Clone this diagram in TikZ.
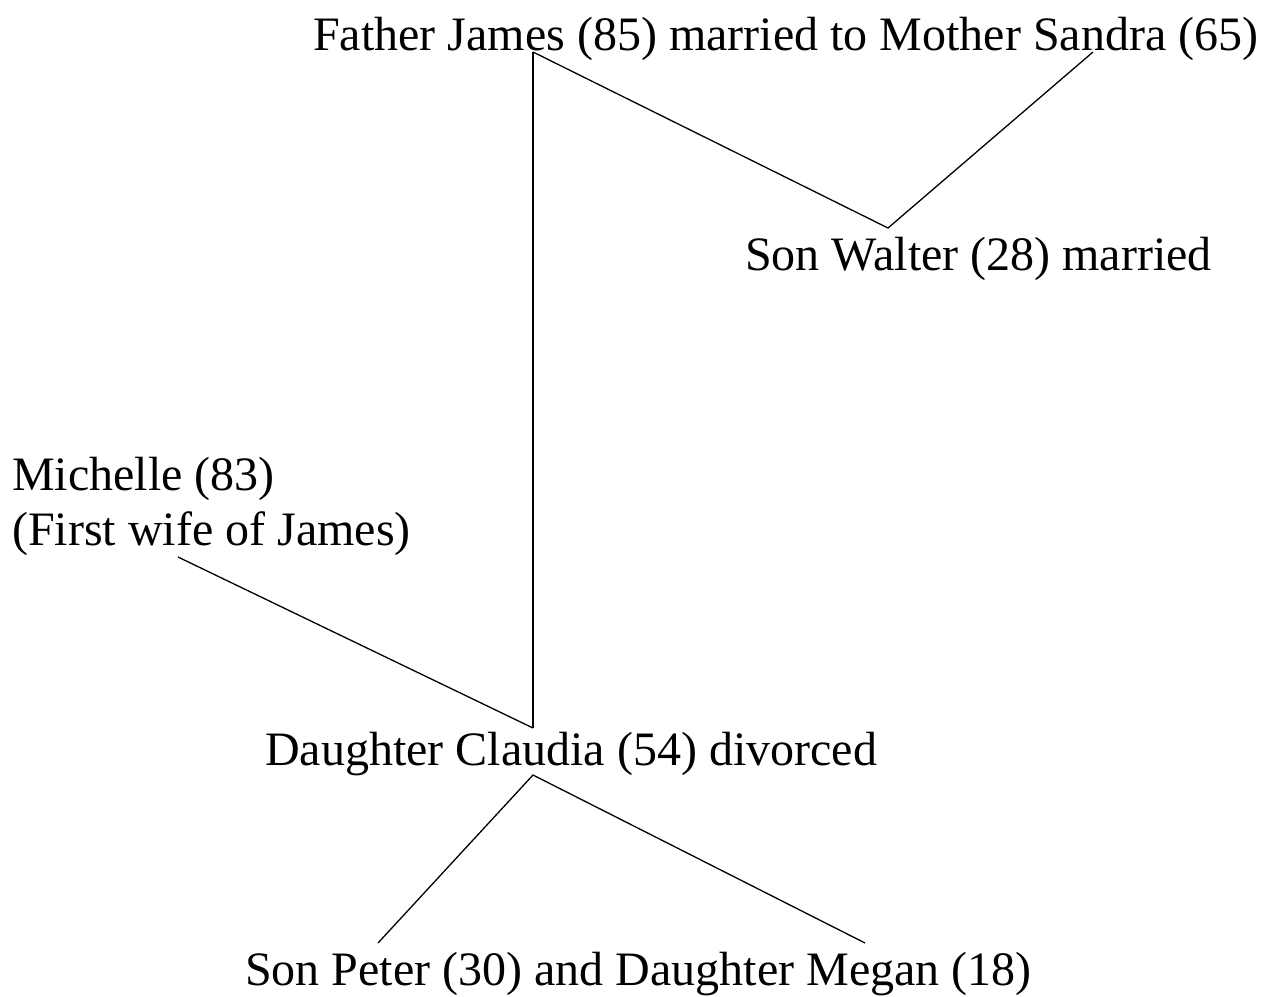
\documentclass[tikz,border=0pt]{standalone}
\usepackage{fontspec}
\setmainfont{Liberation Serif}
\begin{document}
\begin{tikzpicture}[x=1pt,y=-1pt,
  lbl/.style={anchor=base west,inner sep=0pt,font=\fontsize{48}{55}\selectfont,align=left},
  link/.style={draw=black,line width=1.3pt}]
\useasboundingbox (0,0) rectangle (1271,996);
\node[lbl] (father) at (313,50) {Father James (85) married to Mother Sandra (65)};
\node[lbl] (walter) at (745,270) {Son Walter (28) married};
\node[lbl] (michelle) at (12,545) {Michelle (83)\\(First wife of James)};
\node[lbl] (claudia) at (265,765) {Daughter Claudia (54) divorced};
\node[lbl] (kids) at (245,985) {Son Peter (30) and Daughter Megan (18)};
\coordinate (fJ) at (533,52);
\coordinate (fS) at (1093,52);
\coordinate (wT) at (888,228);
\coordinate (mB) at (178,557);
\coordinate (cT) at (533,728);
\coordinate (cB) at (533,775);
\coordinate (kP) at (378,943);
\coordinate (kM) at (865,943);
\draw[link] (fJ) -- (cT);
\draw[link] (fJ) -- (wT) -- (fS);
\draw[link] (mB) -- (cT);
\draw[link] (kP) -- (cB) -- (kM);
\end{tikzpicture}
\end{document}
